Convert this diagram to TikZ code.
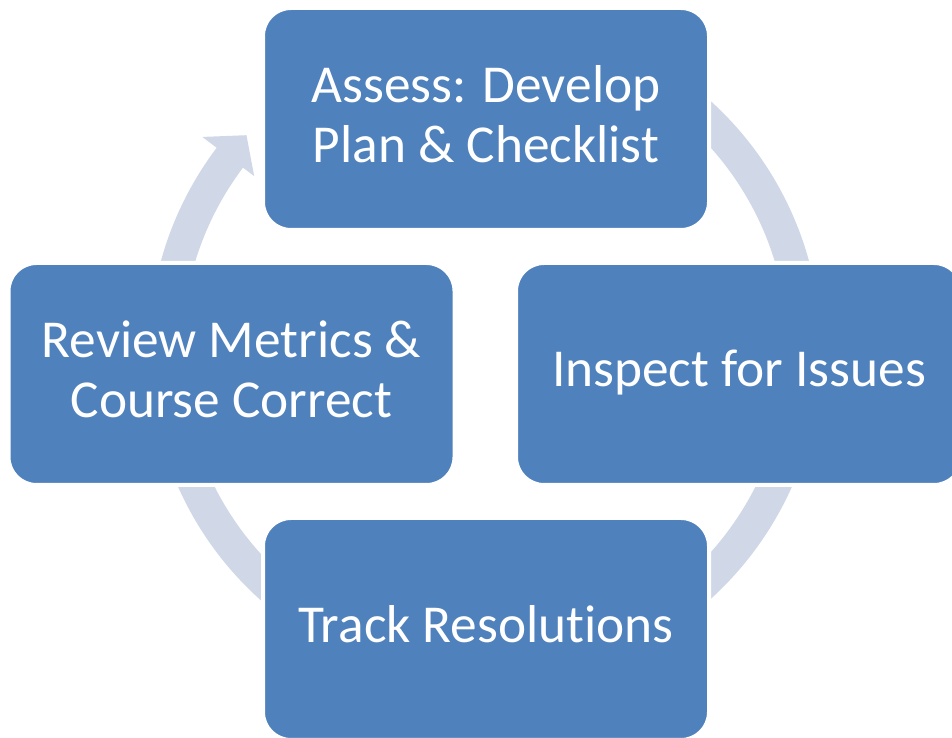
\documentclass[tikz,border=0pt]{standalone}
\usepackage{fontspec}
\setmainfont[Ligatures={NoCommon}]{Carlito}
\usetikzlibrary{calc}
\definecolor{boxblue}{RGB}{79,129,189}
\definecolor{ringblue}{RGB}{208,216,232}
\begin{document}
\begin{tikzpicture}[x=0.75pt,y=0.75pt,
  stage/.style={rectangle, rounded corners=21pt, fill=boxblue, draw=white,
    line width=3pt, minimum width=334.5pt, minimum height=166.5pt,
    text=white, align=center, inner sep=0pt, text depth=8pt,
    font=\fontsize{40}{45}\selectfont}]
\useasboundingbox (0,0) rectangle (952,738);
\coordinate (C) at (485,388);
% cycle ring with arrowhead
\fill[ringblue] ($(C)+(143:336)$) arc[start angle=143, end angle=420, radius=336]
  -- ($(C)+(420:303)$) arc[start angle=420, end angle=143, radius=303]
  -- ($(C)+(143:289)$) -- ($(C)+(138:321)$) -- ($(C)+(143:354)$) -- cycle;
% stages
\node[stage] (assess) at (486,619) {Assess: Develop\\Plan \& Checklist};
\node[stage] (review) at (231.5,364) {Review Metrics \&\\Course Correct};
\node[stage] (inspect) at (739,364) {Inspect for Issues};
\node[stage] (track) at (486,109) {Track Resolutions};
\end{tikzpicture}
\end{document}
